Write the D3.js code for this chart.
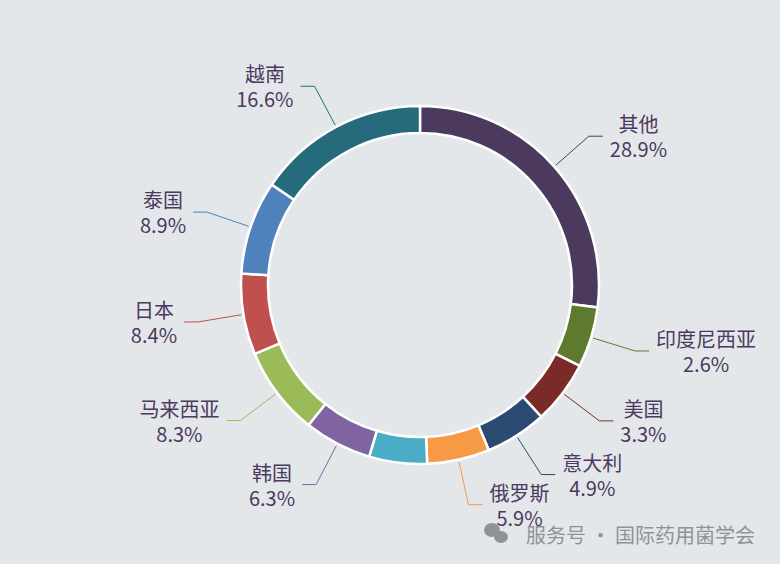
<!DOCTYPE html>
<html><head><meta charset="utf-8">
<script src="https://cdn.jsdelivr.net/npm/d3@7"></script>
<style>body{margin:0;background:#e4e7ea;}svg{display:block;font-family:"Noto Sans CJK SC","Noto Sans",sans-serif;}</style>
</head><body><svg width="780" height="564"></svg>
<script>
const categories=["其他","印度尼西亚","美国","意大利","俄罗斯","","韩国","马来西亚","日本","泰国","越南"];
const labels=["28.9%","2.6%","3.3%","4.9%","5.9%","","6.3%","8.3%","8.4%","8.9%","16.6%"];
// slice sizes as drawn
const sizes=[97.2,19.7,20.5,20,20.3,18.8,22,28.9,26.3,30.4,55.9];
const colors=["#4b3a5e","#5e7a2e","#7b2a2a","#2b4a72","#f79a45","#4bacc6","#8064a2","#9bbb59","#c0504d","#4f81bd","#256b7c"];
const svg=d3.select("svg");
const cx=420,cy=285,R=179,r=152;
const g=svg.append("g").attr("transform",`translate(${cx},${cy})`);
const data=categories.map((c,i)=>({c,v:sizes[i],lab:labels[i],col:colors[i]}));
const arcs=d3.pie().value(d=>d.v).sort(null)(data);
const arc=d3.arc().innerRadius(r).outerRadius(R);
g.selectAll("path").data(arcs).join("path").attr("d",arc).attr("fill",d=>d.data.col).attr("stroke","#fff").attr("stroke-width",2.5);
arcs.forEach(a=>{
  if(!a.data.c)return;
  const m=(a.startAngle+a.endAngle)/2;
  const sx=Math.sin(m),sy=-Math.cos(m);
  const side=sx>=0?1:-1;
  const p0=[sx*(R+2),sy*(R+2)],p1=[sx*(R+46),sy*(R+46)];
  const p2=[p1[0]+side*14,p1[1]];
  const lab=g.append("g");
  const t1=lab.append("text").text(a.data.c).attr("text-anchor","middle").attr("dominant-baseline","central").attr("font-size",20).attr("fill","#4b3a5e").attr("y",-12.5);
  const t2=lab.append("text").text(a.data.lab).attr("text-anchor","middle").attr("dominant-baseline","central").attr("font-size",20).attr("fill","#4b3a5e").attr("y",12.5);
  const w=Math.max(t1.node().getBBox().width,t2.node().getBBox().width);
  const lx=p2[0]+side*(w/2+7);
  lab.attr("transform",`translate(${lx},${p1[1]})`);
  g.append("polyline").attr("points",[p0,p1,p2].map(p=>p.join(",")).join(" ")).attr("fill","none").attr("stroke",a.data.col).attr("stroke-width",1);
});
const wm=svg.append("g").attr("fill","#8f9296");
wm.append("ellipse").attr("cx",492).attr("cy",530).attr("rx",8).attr("ry",7);
wm.append("ellipse").attr("cx",501).attr("cy",537).attr("rx",7).attr("ry",6);
svg.append("text").attr("x",755).attr("y",543).attr("text-anchor","end").attr("font-size",20).attr("fill","#8f9296").text("服务号 · 国际药用菌学会");
</script></body></html>
